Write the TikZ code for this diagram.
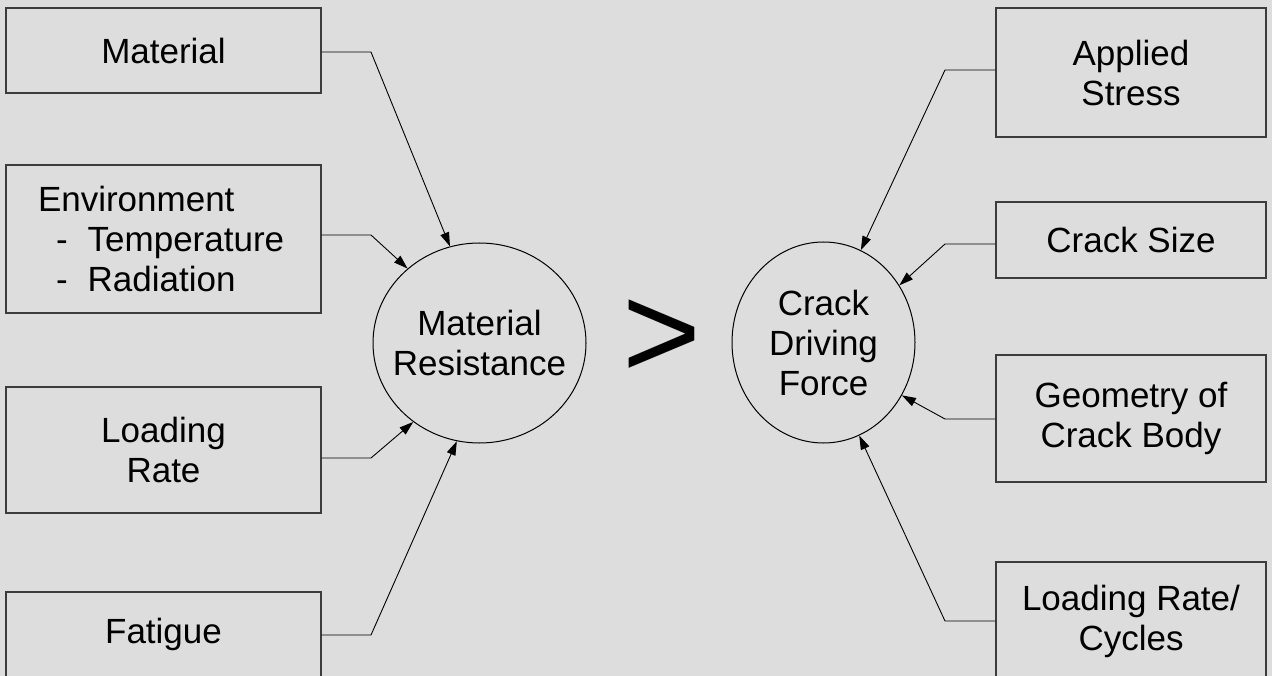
\documentclass[tikz,border=0pt]{standalone}
\usepackage{fontspec}
\setmainfont{Liberation Sans}
\usetikzlibrary{arrows.meta,shapes.geometric}
\definecolor{bg}{HTML}{DDDDDD}
\definecolor{bx}{HTML}{3C3C3C}
\newcommand{\zl}[1]{\makebox[0pt]{#1}}
\begin{document}
\begin{tikzpicture}[x=1pt,y=-1pt,
  lbl/.style={font=\fontsize{35}{40}\selectfont},
  boxnode/.style={lbl,draw=bx,line width=1.3pt,rectangle,inner sep=0pt,align=center},
  lbox/.style={boxnode,minimum width=315pt},
  rbox/.style={boxnode,minimum width=270pt},
  oval/.style={lbl,draw=black,line width=1pt,ellipse,inner sep=0pt,align=center},
  conn/.style={draw=black,line width=0.9pt,-{Triangle[length=14pt,width=9pt]}}
]
\useasboundingbox (0,0) rectangle (1272,676);
\fill[bg] (0,0) rectangle (1272,676);
\clip (0,0) rectangle (1272,676);

% left boxes
\node[lbox,minimum height=85pt] (mat) at (163.5,50.5) {Material};
\node[lbox,minimum height=148pt,text width=251pt,inner xsep=32pt,align=left] (env) at (163.5,239)
  {Environment\\\hspace*{18pt}-\hspace*{20pt}Temperature\\\hspace*{18pt}-\hspace*{20pt}Radiation};
\node[lbox,minimum height=126pt] (lr) at (163.5,450) {Loading\\Rate};
\node[lbox,minimum height=85pt] (fat) at (163.5,634.5) {Fatigue};

% right boxes
\node[rbox,minimum height=129pt] (as) at (1131,72.5) {Applied\\Stress};
\node[rbox,minimum height=76pt] (cs) at (1131,240) {Crack Size};
\node[rbox,minimum height=127pt] (geo) at (1131,418.5) {Geometry of\\Crack Body};
\node[rbox,minimum height=118pt] (lrc) at (1131,621) {Loading Rate/\\Cycles};

% ellipses
\node[oval,minimum width=213pt,minimum height=200pt] (mr) at (479.5,343) {\zl{Material}\\\zl{Resistance}};
\node[oval,minimum width=183pt,minimum height=201pt] (cdf) at (823.5,342.5) {\zl{Crack}\\\zl{Driving}\\\zl{Force}};

% greater-than sign
\node[font=\fontsize{135}{140}\selectfont,inner sep=0pt] (gt) at (662,339) {>};

% bend points
\coordinate (b1) at (371,52);
\coordinate (b2) at (371,235);
\coordinate (b3) at (371,458);
\coordinate (b4) at (371,635);
\coordinate (c1) at (945,70);
\coordinate (c2) at (945,244);
\coordinate (c3) at (945,419);
\coordinate (c4) at (945,621);

% connectors
\draw[conn] (mat.east |- b1) -- (b1) -- (mr.107);
\draw[conn] (env.east |- b2) -- (b2) -- (mr.134);
\draw[conn] (lr.east |- b3) -- (b3) -- (mr.230);
\draw[conn] (fat.east |- b4) -- (b4) -- (mr.257);
\draw[conn] (as.west |- c1) -- (c1) -- (cdf.68);
\draw[conn] (cs.west |- c2) -- (c2) -- (cdf.37);
\draw[conn] (geo.west |- c3) -- (c3) -- (cdf.-34);
\draw[conn] (lrc.west |- c4) -- (c4) -- (cdf.-69.5);
\end{tikzpicture}
\end{document}
